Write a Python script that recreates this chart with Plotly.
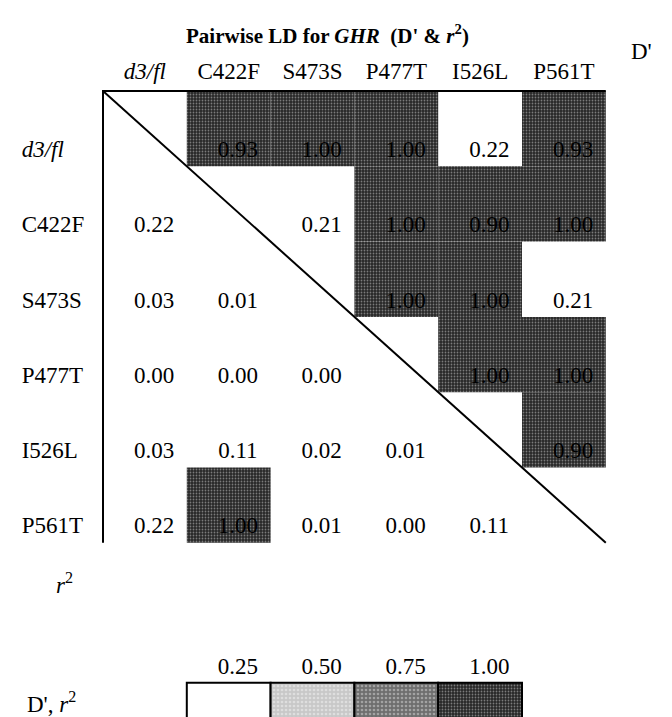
import plotly.graph_objects as go

# ---------------- data ----------------
markers = ["d3/fl", "C422F", "S473S", "P477T", "I526L", "P561T"]
marker_labels = ["<i>d3/fl</i>", "C422F", "S473S", "P477T", "I526L", "P561T"]

# D' (upper triangle, row i, column j > i)
dprime = [
    [None, 0.93, 1.00, 1.00, 0.22, 0.93],
    [None, None, 0.21, 1.00, 0.90, 1.00],
    [None, None, None, 1.00, 1.00, 0.21],
    [None, None, None, None, 1.00, 1.00],
    [None, None, None, None, None, 0.90],
    [None, None, None, None, None, None],
]
# r^2 (lower triangle, row i, column j < i)
r2 = [
    [None, None, None, None, None, None],
    [0.22, None, None, None, None, None],
    [0.03, 0.01, None, None, None, None],
    [0.00, 0.00, 0.00, None, None, None],
    [0.03, 0.11, 0.02, 0.01, None, None],
    [0.22, 1.00, 0.01, 0.00, 0.11, None],
]
legend_levels = [0.25, 0.50, 0.75, 1.00]
legend_labels = ["0.25", "0.50", "0.75", "1.00"]

# ---------------- style ----------------
FONT = "Liberation Serif"
level_bg = ["#ffffff", "#c8c8c8", "#6e6e6e", "#262626"]
level_fg = ["#ffffff", "#f4f4f4", "#d8d8d8", "#cfcfcf"]
level_solid = [0.01, 0.35, 0.35, 0.28]
level_psize = [4, 4, 4, 3]

W, H = 672, 717
X0, Y0, CW, RH = 103.0, 91.0, 83.8, 75.3   # pixel geometry of grid
x_range = [-X0 / CW, (W - X0) / CW]
y_range = [(H - Y0) / RH, -Y0 / RH]
TX, TY = 0.11, 0.80        # text offset inside a cell
LEG_ROW = 7.86             # legend row top (in row units)

n = len(markers)


def level_of(v):
    for k, lv in enumerate(legend_levels):
        if v <= lv + 1e-9:
            return k
    return len(legend_levels) - 1


def pattern(k):
    return dict(shape="." if k > 0 else "", fgcolor=level_fg[k],
                bgcolor=level_bg[k], size=level_psize[k], solidity=level_solid[k])


fig = go.Figure()

# ---- shaded cells (one trace per level) ----
cells = {k: ([], []) for k in range(len(legend_levels))}
for i in range(n):
    for j in range(n):
        v = dprime[i][j] if j > i else (r2[i][j] if j < i else None)
        if v is None:
            continue
        k = level_of(v)
        cells[k][0].append(j + 0.5)
        cells[k][1].append(i)

for k, (xs, bases) in cells.items():
    if not xs:
        continue
    fig.add_trace(go.Bar(
        x=xs, y=[1] * len(xs), base=bases, width=1,
        marker=dict(color=level_bg[k], line=dict(width=0), pattern=pattern(k)),
        hoverinfo="skip", showlegend=False))

# ---- legend boxes ----
leg_x = [j + 1.5 for j in range(len(legend_levels))]
for k in range(len(legend_levels)):
    fig.add_trace(go.Bar(
        x=[leg_x[k]], y=[1], base=[LEG_ROW], width=1,
        marker=dict(color=level_bg[k], line=dict(width=2, color="black"),
                    pattern=pattern(k)),
        hoverinfo="skip", showlegend=False))

# ---- borders and diagonal ----
fig.add_trace(go.Scatter(x=[n, 0, 0], y=[0, 0, n], mode="lines",
                         line=dict(color="black", width=2),
                         hoverinfo="skip", showlegend=False))
fig.add_trace(go.Scatter(x=[0, n], y=[0, n], mode="lines",
                         line=dict(color="black", width=2),
                         hoverinfo="skip", showlegend=False))

# ---- values ----
vx, vy, vt = [], [], []
for i in range(n):
    for j in range(n):
        v = dprime[i][j] if j > i else (r2[i][j] if j < i else None)
        if v is None:
            continue
        vx.append(j + 0.5 + TX)
        vy.append(i + TY)
        vt.append(f"{v:.2f}")
fig.add_trace(go.Scatter(x=vx, y=vy, text=vt, mode="text",
                         textfont=dict(family=FONT, size=23, color="black"),
                         hoverinfo="skip", showlegend=False))

# ---- column headers ----
fig.add_trace(go.Scatter(x=[j + 0.5 for j in range(n)], y=[-0.23] * n,
                         text=marker_labels, mode="text",
                         textfont=dict(family=FONT, size=23, color="black"),
                         hoverinfo="skip", showlegend=False))

# ---- row labels ----
fig.add_trace(go.Scatter(x=[-0.97] * n, y=[i + TY for i in range(n)],
                         text=marker_labels, mode="text", textposition="middle right",
                         textfont=dict(family=FONT, size=23, color="black"),
                         hoverinfo="skip", showlegend=False))

# ---- legend labels ----
fig.add_trace(go.Scatter(x=[x + TX for x in leg_x], y=[LEG_ROW - 0.2] * len(leg_x),
                         text=legend_labels, mode="text",
                         textfont=dict(family=FONT, size=23, color="black"),
                         hoverinfo="skip", showlegend=False))

annots = [
    dict(text="<b>Pairwise LD for <i>GHR</i>  (D' &amp; <i>r</i><sup>2</sup>)</b>",
         x=327 / W, y=1 - 34 / H, font=dict(size=21)),
    dict(text="D'", x=641 / W, y=1 - 51 / H, font=dict(size=23)),
    dict(text="<i>r</i><sup>2</sup>", x=64 / W, y=1 - 583 / H, font=dict(size=23)),
    dict(text="D', <i>r</i><sup>2</sup>", x=25 / W, y=1 - 702 / H, font=dict(size=23),
         xanchor="left"),
]
for a in annots:
    base = dict(xref="paper", yref="paper", showarrow=False, xanchor="center",
                yanchor="middle")
    base.update(a)
    base["font"] = dict(family=FONT, color="black", **a["font"])
    fig.add_annotation(**base)

fig.update_layout(
    width=W, height=H, margin=dict(l=0, r=0, t=0, b=0),
    paper_bgcolor="white", plot_bgcolor="white", barmode="overlay",
    xaxis=dict(range=x_range, visible=False, fixedrange=True),
    yaxis=dict(range=y_range, visible=False, fixedrange=True),
    showlegend=False,
)

fig.write_html("out.html", config={"displayModeBar": False},
               post_script="document.body.style.margin='0';")
